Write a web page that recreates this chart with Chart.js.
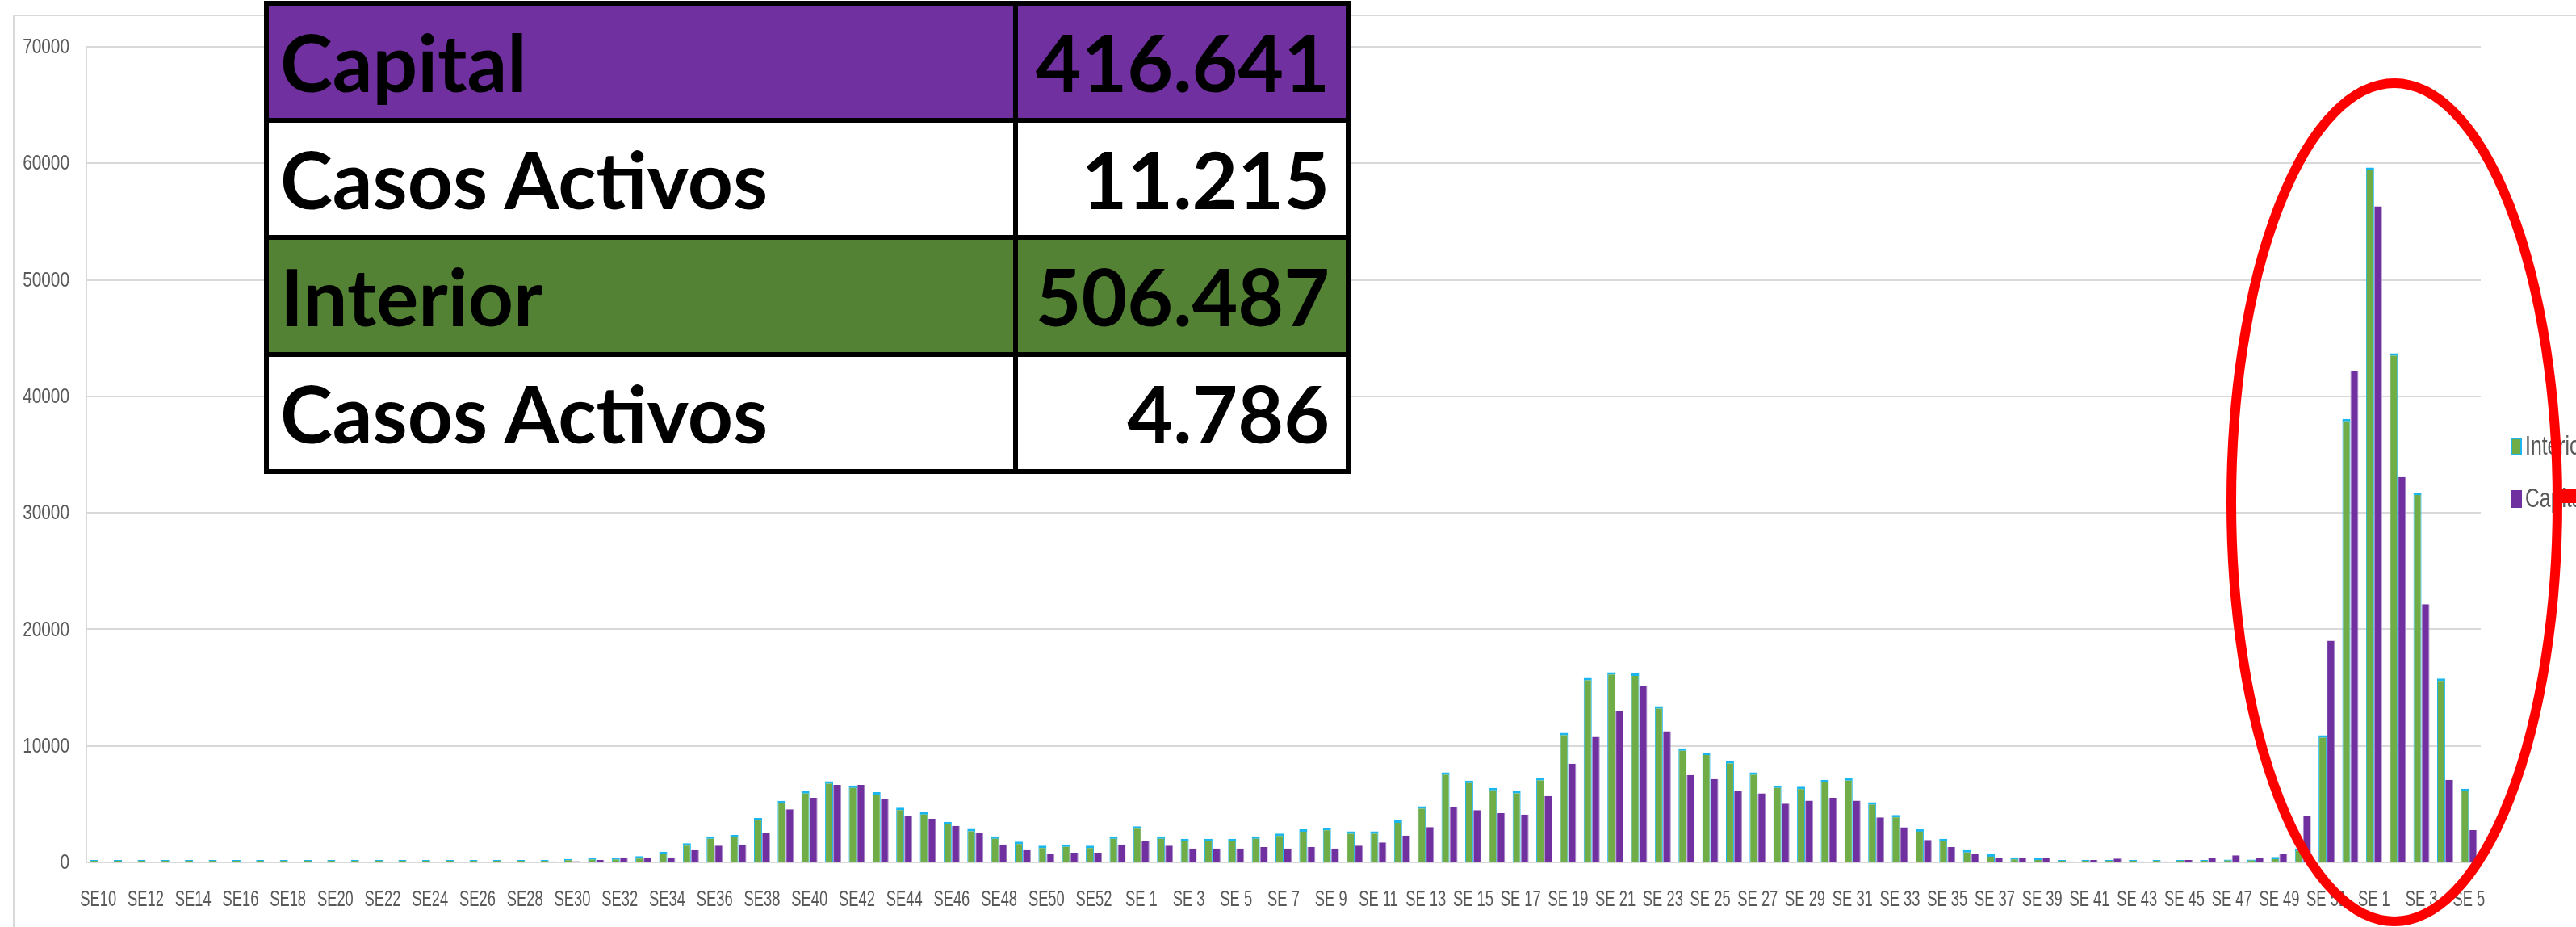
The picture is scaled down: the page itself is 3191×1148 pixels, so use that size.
<!DOCTYPE html>
<html>
<head>
<meta charset="utf-8">
<script src="https://cdn.jsdelivr.net/npm/chart.js@4.4.1/dist/chart.umd.min.js"></script>
<style>
  html, body { margin: 0; padding: 0; background: #fff; }
  #wrap { position: relative; width: 3191px; height: 1148px; overflow: hidden; }
  #chart { position: absolute; left: 0; top: 0; }
  #summary {
    position: absolute; left: 327px; top: 1px;
    display: grid; grid-template-columns: 922px 406px; grid-auto-rows: 139px;
    gap: 6px; padding: 6px; background: #000;
    font-family: Lato, "Open Sans", sans-serif; font-weight: 700; font-size: 98px; line-height: 1.2; color: #000;
  }
  #summary div { display: flex; align-items: center; background: #fff; white-space: nowrap; }
  #summary .name { padding-left: 14px; }
  #summary .num { justify-content: flex-end; padding-right: 20px; }
  #summary .capital { background: #7030A0; }
  #summary .interior { background: #548235; }
</style>
</head>
<body>
<div id="wrap">
  <canvas id="chart" width="3191" height="1148"></canvas>
  <div id="summary"></div>
</div>
<script>
const weekLabels = [
  "SE10","SE11","SE12","SE13","SE14","SE15","SE16","SE17","SE18","SE19",
  "SE20","SE21","SE22","SE23","SE24","SE25","SE26","SE27","SE28","SE29",
  "SE30","SE31","SE32","SE33","SE34","SE35","SE36","SE37","SE38","SE39",
  "SE40","SE41","SE42","SE43","SE44","SE45","SE46","SE47","SE48","SE49",
  "SE50","SE51","SE52","SE53",
  "SE 1","SE 2","SE 3","SE 4","SE 5","SE 6","SE 7","SE 8","SE 9","SE 10",
  "SE 11","SE 12","SE 13","SE 14","SE 15","SE 16","SE 17","SE 18","SE 19","SE 20",
  "SE 21","SE 22","SE 23","SE 24","SE 25","SE 26","SE 27","SE 28","SE 29","SE 30",
  "SE 31","SE 32","SE 33","SE 34","SE 35","SE 36","SE 37","SE 38","SE 39","SE 40",
  "SE 41","SE 42","SE 43","SE 44","SE 45","SE 46","SE 47","SE 48","SE 49","SE 50",
  "SE 51","SE 52",
  "SE 1","SE 2","SE 3","SE 4","SE 5"
];

const interior = [
  10, 15, 20, 20, 15, 10, 10, 10, 10, 15,
  20, 30, 30, 25, 30, 40, 50, 60, 70, 190,
  300, 420, 420, 540, 910, 1640, 2240, 2360, 3810, 5280,
  6120, 6960, 6610, 6030, 4700, 4320, 3480, 2870, 2240, 1780,
  1430, 1540, 1430, 2240,
  3110, 2240, 2030, 2030, 2030, 2240, 2480, 2850, 2970, 2660,
  2660, 3600, 4810, 7730, 7010, 6400, 6140, 7240, 11120, 15840,
  16330, 16210, 13410, 9790, 9420, 8690, 7730, 6610, 6500, 7080,
  7220, 5160, 4070, 2850, 2030, 1050, 700, 440, 350, 210,
  210, 210, 210, 70, 70, 150, 240, 240, 470, 1200,
  10920, 38070,
  59640, 43690, 31740, 15790, 6330
];

const capital = [
  0, 0, 0, 0, 0, 0, 0, 0, 0, 0,
  0, 0, 0, 0, 0, 5, 5, 10, 20, 90,
  100, 210, 440, 440, 440, 1050, 1430, 1540, 2520, 4560,
  5540, 6660, 6660, 5420, 3970, 3740, 3130, 2520, 1540, 1050,
  700, 840, 840, 1540,
  1800, 1430, 1190, 1190, 1190, 1310, 1190, 1310, 1190, 1430,
  1710, 2310, 3040, 4720, 4490, 4230, 4110, 5700, 8480, 10770,
  12970, 15140, 11260, 7500, 7150, 6170, 5930, 5050, 5300, 5540,
  5300, 3860, 3010, 1920, 1310, 700, 350, 350, 350, 90,
  210, 330, 90, 90, 210, 360, 600, 400, 750, 3960,
  19030, 42150,
  56310, 33080, 22160, 7080, 2770
];

const yTicks = [0, 10000, 20000, 30000, 40000, 50000, 60000, 70000];

const summaryNames = ["Capital", "Casos Activos", "Interior", "Casos Activos"];
const summaryValues = ["416.641", "11.215", "506.487", "4.786"];
const summaryRowClass = ["capital", "", "interior", ""];

// summary table drawn over the chart
const summary = document.getElementById("summary");
summaryNames.forEach((name, i) => {
  const a = document.createElement("div");
  a.className = "name " + summaryRowClass[i];
  a.textContent = name;
  const b = document.createElement("div");
  b.className = "num " + summaryRowClass[i];
  b.textContent = summaryValues[i];
  summary.appendChild(a);
  summary.appendChild(b);
});

const labelFont = '"Liberation Sans", Arial, sans-serif';
const grey = "#d9d9d9";
const textGrey = "#595959";

// the source picture has narrow, squeezed text
function squeezedText(c, text, x, y, k) {
  c.save();
  c.translate(x, y);
  c.scale(k, 1);
  c.fillText(text, 0, 0);
  c.restore();
}

const framePlugin = {
  id: "frame",
  beforeDraw(chart) {
    const c = chart.ctx;
    c.save();
    c.fillStyle = "#fff";
    c.fillRect(0, 0, chart.width, chart.height);
    c.strokeStyle = grey;
    c.lineWidth = 2;
    c.strokeRect(17, 19, chart.width + 50, chart.height + 50);
    c.restore();
  }
};

const tickTextPlugin = {
  id: "tickText",
  afterDraw(chart) {
    const c = chart.ctx;
    const xs = chart.scales.x;
    const ys = chart.scales.y;
    c.save();
    c.fillStyle = textGrey;
    c.font = "27px " + labelFont;
    c.textBaseline = "middle";
    c.textAlign = "center";
    xs.ticks.forEach((t, i) => {
      if (i % 2 === 0) squeezedText(c, weekLabels[i], xs.getPixelForTick(i), xs.top + 47, 0.68);
    });
    c.font = "26px " + labelFont;
    c.textAlign = "right";
    ys.ticks.forEach((t) => {
      squeezedText(c, String(t.value), chart.chartArea.left - 21, ys.getPixelForValue(t.value) + 1, 0.8);
    });
    c.restore();
  }
};

const sideLegendPlugin = {
  id: "sideLegend",
  afterDraw(chart) {
    const c = chart.ctx;
    const x = chart.chartArea.right + 37;
    c.save();
    c.font = "33px " + labelFont;
    c.textBaseline = "middle";
    chart.data.datasets.forEach((ds, i) => {
      const y = 553 + i * 65;
      c.fillStyle = ds.backgroundColor;
      c.fillRect(x, y - 11, 14, 22);
      if (i === 0) {
        c.strokeStyle = ds.borderColor;
        c.lineWidth = 2;
        c.strokeRect(x + 1, y - 10, 12, 20);
      }
      c.fillStyle = textGrey;
      squeezedText(c, ds.label, x + 18, y + 1, 0.75);
    });
    c.restore();
  }
};

const markupPlugin = {
  id: "markup",
  afterDraw(chart) {
    const c = chart.ctx;
    c.save();
    c.strokeStyle = "#ff0000";
    c.lineWidth = 12;
    c.beginPath();
    c.ellipse(2966, 622, 202, 519, 0, 0, Math.PI * 2);
    c.stroke();
    c.fillStyle = "#ff0000";
    c.fillRect(3172, 605, 19, 18);
    c.restore();
  }
};

new Chart(document.getElementById("chart"), {
  type: "bar",
  data: {
    labels: weekLabels,
    datasets: [
      {
        label: "Interior",
        data: interior,
        backgroundColor: "#70AD47",
        borderColor: "#1cb6ee",
        borderWidth: { top: 3, left: 1, right: 1, bottom: 0 },
        borderSkipped: "start",
        minBarLength: 3,
        categoryPercentage: 0.68,
        barPercentage: 1
      },
      {
        label: "Capital",
        data: capital,
        backgroundColor: "#7030A0",
        borderColor: "#a88cc8",
        borderWidth: { top: 0, left: 1, right: 1, bottom: 0 },
        borderSkipped: "start",
        categoryPercentage: 0.68,
        barPercentage: 1
      }
    ]
  },
  options: {
    responsive: false,
    animation: false,
    devicePixelRatio: 1,
    layout: { padding: { left: 17, top: 58, right: 118, bottom: 0 } },
    plugins: {
      legend: { display: false },
      tooltip: { enabled: false }
    },
    scales: {
      x: {
        grid: { display: false, drawTicks: false },
        border: { color: grey, width: 2 },
        ticks: { display: false, autoSkip: false, maxRotation: 0, minRotation: 0 },
        afterFit: (s) => { s.height = 80; }
      },
      y: {
        min: 0,
        max: 70000,
        afterBuildTicks: (s) => { s.ticks = yTicks.map((v) => ({ value: v })); },
        grid: { color: grey, lineWidth: 2, drawTicks: false },
        border: { display: true, color: grey, width: 2 },
        ticks: { display: false },
        afterFit: (s) => { s.width = 90; }
      }
    }
  },
  plugins: [framePlugin, tickTextPlugin, sideLegendPlugin, markupPlugin]
});
</script>
</body>
</html>
